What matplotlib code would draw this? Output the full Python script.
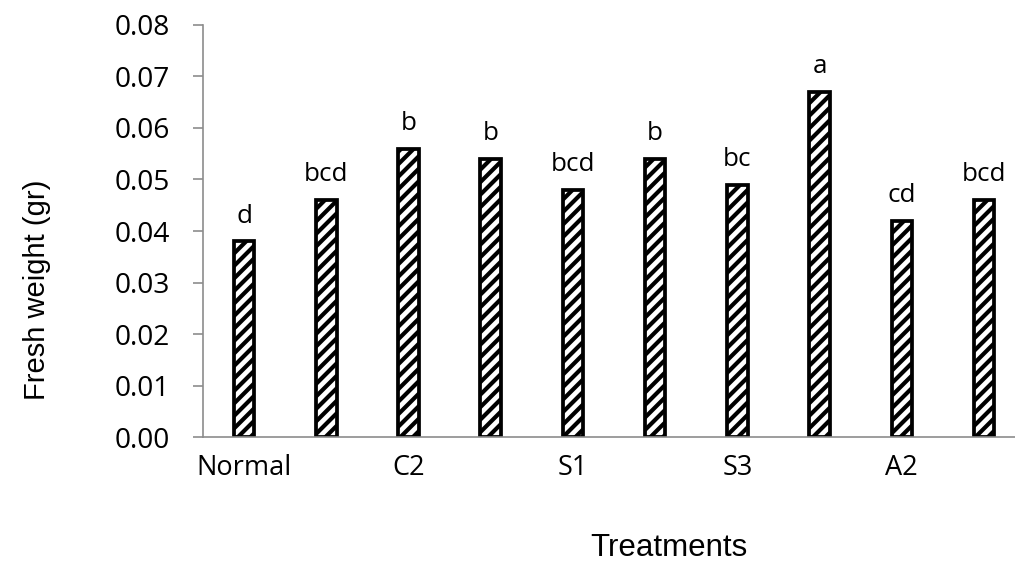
import matplotlib
matplotlib.use("Agg")
import matplotlib.pyplot as plt
import numpy as np

# Fresh weight per treatment
treatments = ["Normal", "", "C2", "", "S1", "", "S3", "", "A2", ""]
fresh_weight = [0.038, 0.046, 0.056, 0.054, 0.048, 0.054, 0.049, 0.067, 0.042, 0.046]
letters = ["d", "bcd", "b", "b", "bcd", "b", "bc", "a", "cd", "bcd"]
y_ticks = [0.00, 0.01, 0.02, 0.03, 0.04, 0.05, 0.06, 0.07, 0.08]

plt.rcParams["hatch.linewidth"] = 2.0
plt.rcParams["hatch.color"] = "black"

fig = plt.figure(figsize=(1015 / 150, 565 / 150), dpi=150)
ax = fig.add_axes([0.2, 0.2265, 0.81, 0.7293])

x = np.arange(len(fresh_weight))
bars = ax.bar(x, fresh_weight, width=0.25, color="white", edgecolor="black",
              linewidth=1.8, hatch="////")

for xi, yi, lab in zip(x, fresh_weight, letters):
    ax.annotate(lab, (xi, yi), xytext=(0, 9), textcoords="offset points",
                ha="center", va="baseline", fontsize=12.5, family="Open Sans")

ax.set_xlim(-0.5, len(fresh_weight) - 0.5)
ax.set_ylim(0, 0.08)
ax.set_yticks(y_ticks)
ax.set_yticklabels(["%.2f" % v for v in y_ticks], family="Open Sans", fontsize=13.5)
ax.set_xticks(x)
ax.set_xticklabels(treatments, family="Open Sans", fontsize=13)

gray = "#8c8c8c"
for side in ["top", "right"]:
    ax.spines[side].set_visible(False)
ax.spines["left"].set_color(gray)
ax.spines["bottom"].set_color(gray)
ax.spines["left"].set_linewidth(0.8)
ax.spines["bottom"].set_linewidth(0.8)
ax.tick_params(axis="y", direction="out", length=4.8, width=0.8, color=gray, pad=11)
ax.tick_params(axis="x", length=0, pad=8)

fig.text(37 / 1015, 1 - 290 / 565, "Fresh weight (gr)", rotation=90,
         ha="center", va="center", fontsize=14, family="Liberation Sans")
fig.text(669 / 1015, 1 - 548 / 565, "Treatments", ha="center", va="center",
         fontsize=15, family="Liberation Sans")

fig.savefig("out.png", dpi=150)
